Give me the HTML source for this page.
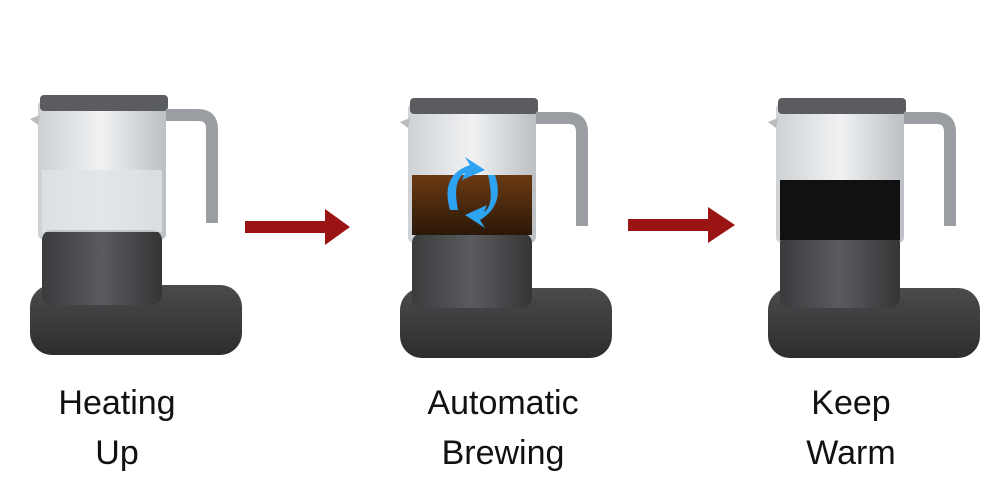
<!DOCTYPE html>
<html><head><style>
html,body{margin:0;padding:0;background:#fff;}
body{width:1000px;height:500px;overflow:hidden;position:relative;font-family:"Liberation Sans",sans-serif;}
.t{position:absolute;font-size:34px;color:#111;text-align:center;width:240px;line-height:50px;}
</style></head><body>
<svg width="1000" height="500" style="position:absolute;left:0;top:0">
<defs>
<linearGradient id="base" x1="0" y1="0" x2="0" y2="1"><stop offset="0" stop-color="#4a4b4d"/><stop offset="1" stop-color="#2c2d2f"/></linearGradient>
<linearGradient id="cup" x1="0" y1="0" x2="1" y2="0"><stop offset="0" stop-color="#3a3b3d"/><stop offset="0.5" stop-color="#5a5b5e"/><stop offset="1" stop-color="#343537"/></linearGradient>
<linearGradient id="glass" x1="0" y1="0" x2="1" y2="0"><stop offset="0" stop-color="#c9ccd0"/><stop offset="0.5" stop-color="#eef0f2"/><stop offset="1" stop-color="#b5b9bd"/></linearGradient>
<linearGradient id="tea" x1="0" y1="0" x2="0" y2="1"><stop offset="0" stop-color="#6b3a12"/><stop offset="1" stop-color="#2a1808"/></linearGradient>
<g id="k">
 <rect x="0" y="190" width="212" height="70" rx="22" fill="url(#base)"/>
 <rect x="8" y="5" width="128" height="140" rx="6" fill="url(#glass)" opacity="0.9"/>
 <rect x="12" y="135" width="120" height="75" rx="10" fill="url(#cup)"/>
 <rect x="10" y="0" width="128" height="16" rx="4" fill="#5a5c5f"/>
 <path d="M136 20 H168 Q182 20 182 34 V128" stroke="#9a9ea3" stroke-width="12" fill="none"/>
 <path d="M8 30 L0 24 L10 20Z" fill="#bbb"/>
</g>
</defs>
<use href="#k" x="30" y="95"/>
<use href="#k" x="400" y="98"/>
<use href="#k" x="768" y="98"/>
<rect x="42" y="170" width="120" height="62" fill="#dfe3e6" opacity="0.8"/>
<rect x="412" y="175" width="120" height="60" fill="url(#tea)"/>
<rect x="780" y="180" width="120" height="60" fill="#111"/>
<path d="M450 210 Q440 175 470 165 L465 157 L485 170 L462 180 L465 173 Q452 180 458 210Z" fill="#2ea3f2"/>
<path d="M495 175 Q505 205 480 220 L485 228 L465 215 L487 205 L484 212 Q495 205 488 175Z" fill="#2ea3f2"/>
<path d="M245 221 H325 V209 L350 227 L325 245 V233 H245Z" fill="#9b1414"/>
<path d="M628 219 H708 V207 L735 225 L708 243 V231 H628Z" fill="#9b1414"/>
</svg>
<div class="t" style="left:-3px;top:378px">Heating<br>Up</div>
<div class="t" style="left:383px;top:378px">Automatic<br>Brewing</div>
<div class="t" style="left:731px;top:378px">Keep<br>Warm</div>
</body></html>
